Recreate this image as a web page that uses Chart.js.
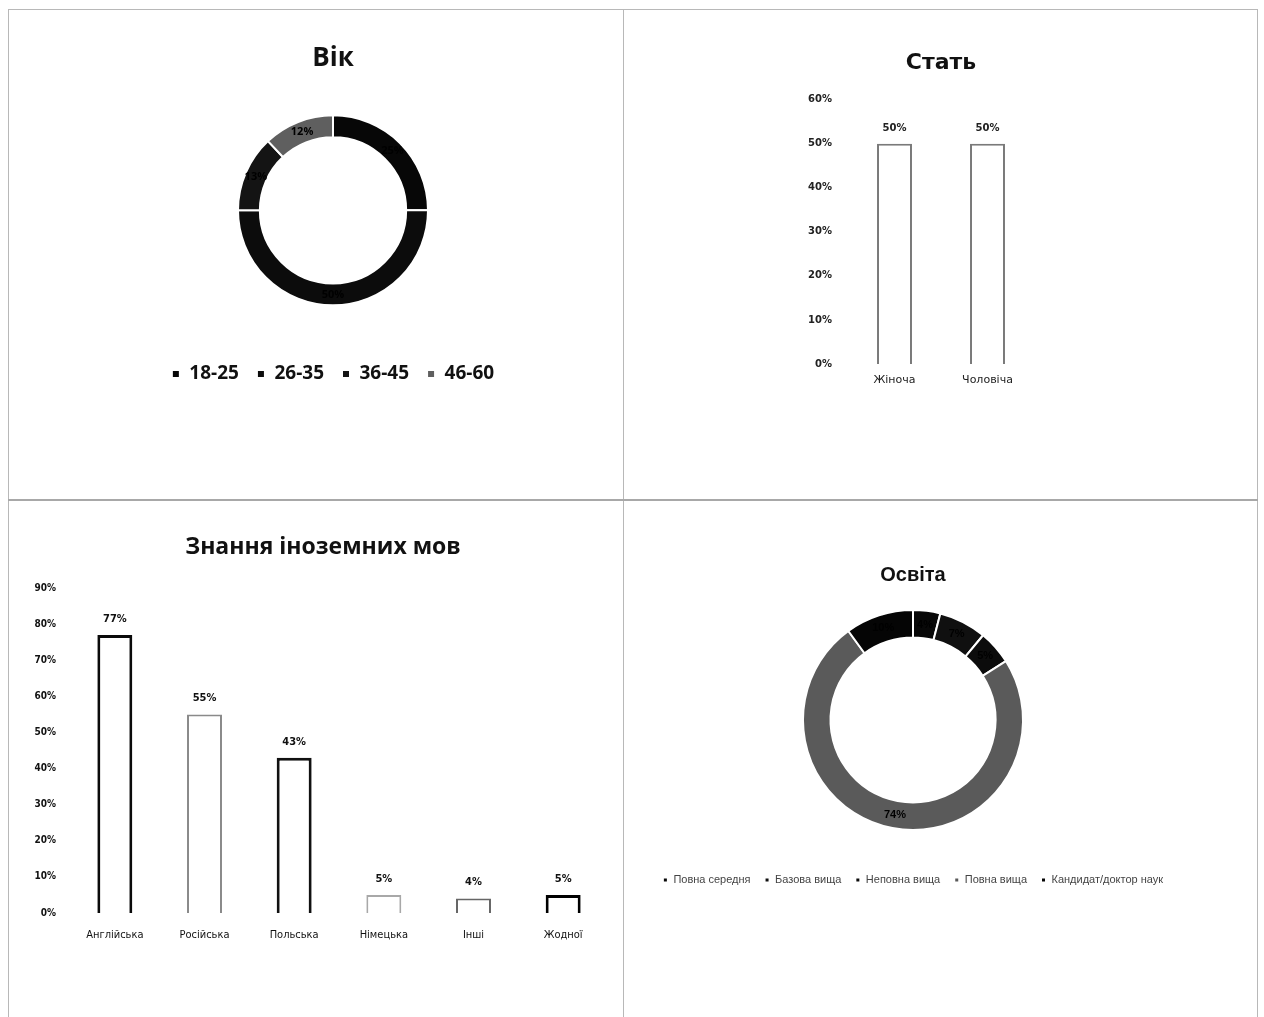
<!DOCTYPE html>
<html>
<head>
<meta charset="utf-8">
<script src="https://cdn.jsdelivr.net/npm/chart.js@4.4.0/dist/chart.umd.min.js"></script>
<style>
  body { margin: 0; background: #fff; }
  #page { position: relative; width: 1264px; height: 1017px; overflow: hidden; }
  canvas { position: absolute; }
  .line { position: absolute; background: #b8b8b8; }
</style>
</head>
<body>
<div id="page">
  <canvas id="ageChart" width="615" height="490" style="left:8px;top:10px"></canvas>
  <canvas id="genderChart" width="635" height="490" style="left:623px;top:10px"></canvas>
  <canvas id="langChart" width="615" height="517" style="left:8px;top:500px"></canvas>
  <canvas id="eduChart" width="635" height="517" style="left:623px;top:500px"></canvas>
  <!-- рамки панелей -->
  <div class="line" style="left:8px;top:9px;width:1250px;height:1px"></div>
  <div class="line" style="left:8px;top:9px;width:1px;height:1010px"></div>
  <div class="line" style="left:1257px;top:9px;width:1px;height:1010px"></div>
  <div class="line" style="left:623px;top:9px;width:1px;height:1010px"></div>
  <div class="line" style="left:8px;top:499px;width:1250px;height:2px;background:#a8a8a8"></div>
</div>
<script>
// Вік
const ageLabels = ["18-25", "26-35", "36-45", "46-60"];
const ageValues = [25, 50, 13, 12];
// Стать
const genderLabels = ["Жіноча", "Чоловіча"];
const genderValues = [50, 50];
// Знання іноземних мов
const langLabels = ["Англійська", "Російська", "Польська", "Німецька", "Інші", "Жодної"];
const langValues = [77, 55, 43, 5, 4, 5];
// Освіта
const eduLabels = ["Повна середня", "Базова вища", "Неповна вища", "Повна вища", "Кандидат/доктор наук"];
const eduValues = [4, 7, 5, 74, 10];

Chart.defaults.font.family = "'Open Sans', sans-serif";
Chart.defaults.color = "#111";
Chart.defaults.animation = false;

// підписи значень (аналог data labels в Excel)
const valueLabels = {
    id: "valueLabels",
    afterDatasetsDraw(chart, args, opts) {
        if (!opts.display) return;
        const ctx = chart.ctx;
        const meta = chart.getDatasetMeta(0);
        const data = chart.data.datasets[0].data;
        ctx.save();
        ctx.font = opts.font;
        ctx.fillStyle = opts.color;
        ctx.textAlign = "center";
        ctx.textBaseline = "middle";
        meta.data.forEach((el, i) => {
            let x, y;
            if (chart.config.type === "bar") {
                x = el.x;
                y = el.y - opts.offset;
            } else {
                const p = el.tooltipPosition();
                x = p.x;
                y = p.y;
            }
            ctx.fillText(data[i] + "%", x, y);
        });
        ctx.restore();
    }
};

const noGrid = { display: false, drawTicks: false };
// порожня вісь справа, щоб заголовок стояв по центру області графіка
const spacerAxis = (w) => ({
    position: "right",
    grid: noGrid,
    border: { display: false },
    ticks: { display: false },
    afterFit: (s) => { s.width = w; }
});

// ---- Вік ----
new Chart(document.getElementById("ageChart"), {
    type: "doughnut",
    plugins: [valueLabels],
    data: {
        labels: ageLabels,
        datasets: [{
            data: ageValues,
            backgroundColor: ["#070707", "#0c0c0c", "#141414", "#5f5f5f"],
            borderColor: "#fff",
            borderWidth: 2
        }]
    },
    options: {
        responsive: false,
        radius: 95,
        cutout: "77%",
        layout: { padding: { left: 35, right: 0, top: 0, bottom: 106.5 } },
        plugins: {
            title: {
                display: true,
                text: "Вік",
                color: "#111",
                font: { size: 26, weight: "bold" },
                padding: { top: 33, bottom: 0 }
            },
            legend: {
                position: "bottom",
                labels: {
                    boxWidth: 8,
                    boxHeight: 8,
                    padding: 18,
                    color: "#111",
                    font: { size: 19, weight: "bold" }
                }
            },
            tooltip: { enabled: false },
            valueLabels: { display: true, font: "bold 11px 'Open Sans'", color: "#000" }
        }
    }
});

// ---- Стать ----
new Chart(document.getElementById("genderChart"), {
    type: "bar",
    plugins: [valueLabels],
    data: {
        labels: genderLabels,
        datasets: [{
            data: genderValues,
            backgroundColor: "#fff",
            borderColor: "#7a7a7a",
            borderWidth: 2,
            barPercentage: 0.376,
            categoryPercentage: 1
        }]
    },
    options: {
        responsive: false,
        layout: { padding: { left: 175, right: 174, top: 0, bottom: 106 } },
        scales: {
            x: {
                grid: noGrid,
                border: { display: false },
                afterFit: (s) => { s.height = 30; },
                ticks: { padding: 10, color: "#222", font: { family: "'DejaVu Sans'", size: 11 } }
            },
            y: {
                min: 0,
                max: 60,
                grid: noGrid,
                border: { display: false },
                afterFit: (s) => { s.width = 50; },
                ticks: {
                    stepSize: 10,
                    padding: 16,
                    color: "#222",
                    font: { family: "'DejaVu Sans'", size: 10, weight: "bold" },
                    callback: (v) => v + "%"
                }
            },
            y2: spacerAxis(50)
        },
        plugins: {
            title: {
                display: true,
                text: "Стать",
                color: "#111",
                font: { family: "'DejaVu Sans'", size: 22, weight: "bold" },
                padding: { top: 39.8, bottom: 23.4 }
            },
            legend: { display: false },
            tooltip: { enabled: false },
            valueLabels: { display: true, offset: 15, font: "bold 10px 'DejaVu Sans'", color: "#222" }
        }
    }
});

// ---- Знання іноземних мов ----
new Chart(document.getElementById("langChart"), {
    type: "bar",
    plugins: [valueLabels],
    data: {
        labels: langLabels,
        datasets: [{
            data: langValues,
            backgroundColor: "#fff",
            borderColor: ["#0a0a0a", "#8a8a8a", "#111", "#a8a8a8", "#666", "#000"],
            borderWidth: [3, 2, 3, 2, 2, 3],
            barPercentage: 0.39,
            categoryPercentage: 1
        }]
    },
    options: {
        responsive: false,
        layout: { padding: { left: 16, right: 1, top: 0, bottom: 64 } },
        scales: {
            x: {
                grid: noGrid,
                border: { display: false },
                afterFit: (s) => { s.height = 40; },
                ticks: { padding: 16, color: "#111", font: { family: "'DejaVu Sans Condensed'", size: 11 } }
            },
            y: {
                min: 0,
                max: 90,
                grid: noGrid,
                border: { display: false },
                afterFit: (s) => { s.width = 46; },
                ticks: {
                    stepSize: 10,
                    padding: 14,
                    color: "#111",
                    font: { family: "'DejaVu Sans Condensed'", size: 10, weight: "bold" },
                    callback: (v) => v + "%"
                }
            },
            y2: spacerAxis(14)
        },
        plugins: {
            title: {
                display: true,
                text: "Знання іноземних мов",
                color: "#111",
                font: { size: 23, weight: "bold" },
                padding: { top: 33.2, bottom: 27.2 }
            },
            legend: { display: false },
            tooltip: { enabled: false },
            valueLabels: { display: true, offset: 16, font: "bold 11px 'DejaVu Sans Condensed'", color: "#111" }
        }
    }
});

// ---- Освіта ----
new Chart(document.getElementById("eduChart"), {
    type: "doughnut",
    plugins: [valueLabels],
    data: {
        labels: eduLabels,
        datasets: [{
            data: eduValues,
            backgroundColor: ["#080808", "#101010", "#0c0c0c", "#5a5a5a", "#050505"],
            borderColor: "#fff",
            borderWidth: 2
        }]
    },
    options: {
        responsive: false,
        radius: 110,
        cutout: "75%",
        layout: { padding: { left: 0, right: 55, top: 0, bottom: 121.5 } },
        plugins: {
            title: {
                display: true,
                text: "Освіта",
                color: "#111",
                font: { family: "'Liberation Sans'", size: 20, weight: "bold" },
                padding: { top: 63, bottom: -7.5 }
            },
            legend: {
                position: "bottom",
                labels: {
                    boxWidth: 5,
                    boxHeight: 5,
                    padding: 14,
                    color: "#444",
                    font: { family: "'Liberation Sans'", size: 11 }
                }
            },
            tooltip: { enabled: false },
            valueLabels: { display: true, font: "bold 11px 'Liberation Sans'", color: "#000" }
        }
    }
});
</script>
</body>
</html>
